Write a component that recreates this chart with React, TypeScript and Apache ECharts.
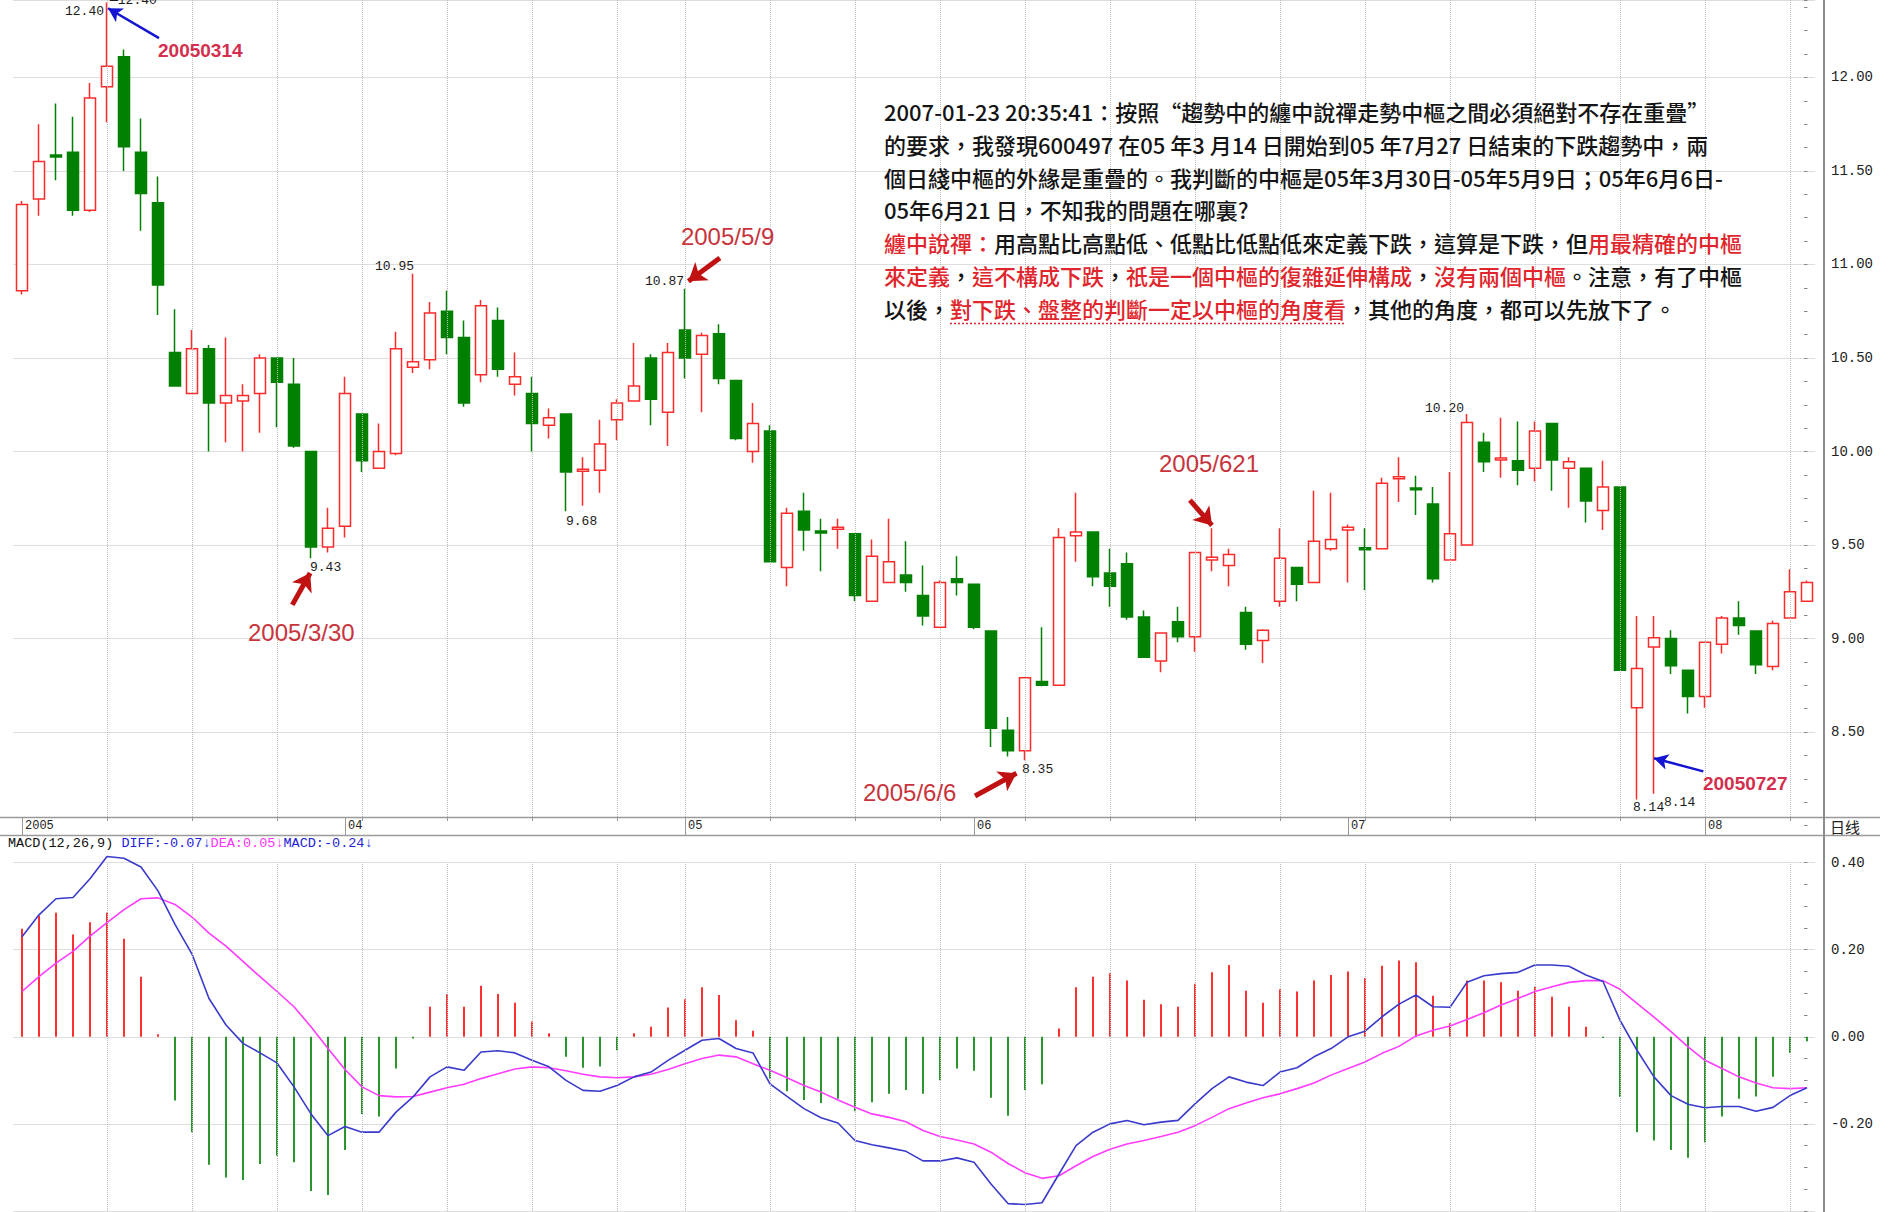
import React, { useEffect, useRef } from "react";
import * as echarts from "echarts";

// ---------- data ----------
const dates = [
  "2005-03-07","2005-03-08","2005-03-09","2005-03-10","2005-03-11",
  "2005-03-14","2005-03-15","2005-03-16","2005-03-17","2005-03-18",
  "2005-03-21","2005-03-22","2005-03-23","2005-03-24","2005-03-25",
  "2005-03-28","2005-03-29","2005-03-30","2005-03-31",
  "2005-04-01",
  "2005-04-04","2005-04-05","2005-04-06","2005-04-07","2005-04-08",
  "2005-04-11","2005-04-12","2005-04-13","2005-04-14","2005-04-15",
  "2005-04-18","2005-04-19","2005-04-20","2005-04-21","2005-04-22",
  "2005-04-25","2005-04-26","2005-04-27","2005-04-28",
  "2005-05-09","2005-05-10","2005-05-11","2005-05-12","2005-05-13",
  "2005-05-16","2005-05-17","2005-05-18","2005-05-19","2005-05-20",
  "2005-05-23","2005-05-24","2005-05-25","2005-05-26","2005-05-27",
  "2005-05-30","2005-05-31",
  "2005-06-01","2005-06-02","2005-06-03",
  "2005-06-06","2005-06-07","2005-06-08","2005-06-09","2005-06-10",
  "2005-06-13","2005-06-14","2005-06-15","2005-06-16","2005-06-17",
  "2005-06-20","2005-06-21","2005-06-22","2005-06-23","2005-06-24",
  "2005-06-27","2005-06-28","2005-06-29","2005-06-30",
  "2005-07-01",
  "2005-07-04","2005-07-05","2005-07-06","2005-07-07","2005-07-08",
  "2005-07-11","2005-07-12","2005-07-13","2005-07-14","2005-07-15",
  "2005-07-18","2005-07-19","2005-07-20","2005-07-21","2005-07-22",
  "2005-07-25","2005-07-26","2005-07-27","2005-07-28","2005-07-29",
  "2005-08-01","2005-08-02","2005-08-03","2005-08-04","2005-08-05",
  "2005-08-08","2005-08-09",
];

const opens = [10.86,11.35,11.585,11.60,11.29, 11.95,12.11,11.60,11.33,10.53, 10.31,10.55,10.26,10.27,10.31, 10.50,10.36,10.00,9.49,9.60, 10.20,9.91,9.99,10.45,10.49, 10.75,10.61,10.41,10.70,10.36, 10.31,10.14,10.20,9.895,9.90, 10.17,10.27,10.50,10.21,10.65, 10.52,10.63,10.38,10.00,10.11, 9.38,9.68,9.575,9.585,9.56, 9.20,9.30,9.34,9.23,9.06, 9.32,9.29,9.04,8.51,8.40, 8.77,8.75,9.55,9.57,9.35, 9.40,9.115,8.88,9.09,9.01, 9.42,9.39,9.14,8.99,9.20, 9.38,9.30,9.48,9.58,9.485, 9.48,9.855,9.805,9.72,9.42, 9.50,10.05,9.955,9.95,9.91, 10.15,9.91,9.91,9.685,9.81, 8.63,8.955,9.00,8.83,8.69, 8.97,9.11,9.04,8.85,9.11, 9.20];
const closes = [11.32,11.55,11.575,11.29,11.89, 12.06,11.63,11.38,10.89,10.35, 10.55,10.26,10.30,10.30,10.50, 10.37,10.03,9.49,9.59,10.31, 9.95,10.00,10.55,10.48,10.74, 10.61,10.26,10.78,10.44,10.40, 10.15,10.18,9.89,9.905,10.04, 10.26,10.35,10.28,10.53,10.50, 10.62,10.39,10.07,10.15,9.41, 9.67,9.58,9.565,9.595,9.23, 9.44,9.41,9.30,9.12,9.30, 9.30,9.06,8.52,8.40,8.79, 8.75,9.54,9.57,9.33,9.28, 9.115,8.90,9.03,9.01,9.46, 9.435,9.45,8.97,9.045,9.43, 9.29,9.52,9.53,9.595,9.475, 9.83,9.865,9.795,9.32,9.56, 10.155,9.945,9.965,9.90,10.11, 9.955,9.945,9.735,9.81,8.83, 8.84,9.005,8.855,8.69,8.98, 9.11,9.07,8.86,9.08,9.25, 9.30];
const lows = [10.84,11.26,11.45,11.26,11.28, 11.76,11.50,11.18,10.73,10.35, 10.31,10.00,10.05,10.00,10.10, 10.13,10.02,9.43,9.46,9.54, 9.89,9.91,9.98,10.42,10.44, 10.52,10.24,10.37,10.40,10.30, 10.00,10.07,9.68,9.71,9.78, 10.06,10.27,10.14,10.03,10.39, 10.21,10.36,10.06,9.94,9.41, 9.28,9.47,9.36,9.48,9.20, 9.20,9.30,9.25,9.07,9.06, 9.23,9.05,8.42,8.37,8.35, 8.745,8.75,9.41,9.28,9.17, 9.10,8.90,8.82,8.98,8.93, 9.36,9.28,8.94,8.87,9.17, 9.20,9.30,9.47,9.30,9.26, 9.48,9.73,9.66,9.30,9.42, 9.50,9.89,9.86,9.82,9.84, 9.79,9.70,9.62,9.58,8.83, 8.14,8.17,8.81,8.60,8.63, 8.92,9.02,8.81,8.83,9.11, 9.20];
const highs = [11.34,11.75,11.86,11.79,11.97, 12.40,12.15,11.78,11.47,10.76, 10.65,10.57,10.61,10.36,10.52, 10.50,10.50,10.00,9.70,10.40, 10.20,10.15,10.64,10.95,10.80, 10.86,10.70,10.81,10.77,10.53, 10.40,10.23,10.20,9.97,10.17, 10.28,10.58,10.52,10.58,10.87, 10.635,10.68,10.38,10.26,10.14, 9.70,9.78,9.64,9.64,9.56, 9.53,9.64,9.52,9.39,9.31, 9.44,9.295,9.04,8.58,8.79, 9.06,9.59,9.78,9.57,9.48, 9.46,9.15,9.03,9.17,9.46, 9.59,9.48,9.17,9.05,9.59, 9.38,9.79,9.78,9.61,9.59, 9.86,9.97,9.87,9.81,9.89, 10.20,10.10,10.18,10.16,10.16, 10.15,9.97,9.91,9.95,9.81, 9.12,9.12,9.045,8.83,8.98, 9.12,9.20,9.04,9.095,9.37, 9.31];

const diffValues = [0.23,0.28,0.317,0.32,0.363, 0.414,0.41,0.39,0.335,0.258, 0.19,0.088,0.027,-0.015,-0.037, -0.06,-0.115,-0.177,-0.227,-0.206, -0.219,-0.219,-0.173,-0.138,-0.092, -0.069,-0.077,-0.035,-0.032,-0.037, -0.054,-0.069,-0.10,-0.123,-0.125, -0.112,-0.092,-0.081,-0.054,-0.031, -0.008,-0.004,-0.027,-0.037,-0.108, -0.137,-0.165,-0.186,-0.198,-0.238, -0.248,-0.255,-0.263,-0.285,-0.285, -0.278,-0.288,-0.338,-0.383,-0.385, -0.381,-0.315,-0.25,-0.219,-0.20, -0.192,-0.202,-0.196,-0.192,-0.154, -0.119,-0.092,-0.104,-0.112,-0.081, -0.071,-0.046,-0.027,0.0,0.013, 0.046,0.075,0.096,0.069,0.068, 0.125,0.14,0.145,0.148,0.165, 0.165,0.162,0.142,0.127,0.038, -0.031,-0.092,-0.135,-0.155,-0.163, -0.16,-0.16,-0.171,-0.162,-0.135, -0.117];
const deaValues = [0.104,0.138,0.169,0.196,0.231, 0.262,0.292,0.317,0.319,0.304, 0.275,0.238,0.208,0.173,0.138, 0.104,0.069,0.023,-0.027,-0.075, -0.115,-0.135,-0.138,-0.137,-0.127, -0.117,-0.109,-0.096,-0.085,-0.074, -0.069,-0.071,-0.078,-0.086,-0.092, -0.094,-0.092,-0.086,-0.075,-0.062, -0.05,-0.042,-0.046,-0.062,-0.077, -0.094,-0.112,-0.127,-0.145,-0.162, -0.177,-0.185,-0.195,-0.215,-0.229, -0.237,-0.246,-0.265,-0.291,-0.312, -0.325,-0.319,-0.296,-0.275,-0.258, -0.246,-0.238,-0.229,-0.219,-0.204, -0.185,-0.165,-0.152,-0.14,-0.131, -0.119,-0.106,-0.088,-0.073,-0.058, -0.038,-0.022,0.002,0.015,0.025, 0.04,0.055,0.073,0.088,0.104, 0.115,0.125,0.129,0.129,0.109, 0.077,0.045,0.012,-0.023,-0.054, -0.073,-0.092,-0.106,-0.117,-0.119, -0.117];
const macdValues = [0.248,0.278,0.285,0.235,0.263, 0.285,0.225,0.138,0.006,-0.146, -0.219,-0.294,-0.323,-0.329,-0.292, -0.273,-0.288,-0.354,-0.363,-0.26, -0.177,-0.183,-0.073,-0.004,0.069, 0.098,0.069,0.117,0.098,0.078, 0.035,0.008,-0.046,-0.071,-0.068, -0.031,0.008,0.023,0.067,0.086, 0.114,0.096,0.038,0.014,-0.096, -0.125,-0.145,-0.152,-0.142,-0.171, -0.15,-0.131,-0.122,-0.131,-0.10, -0.073,-0.078,-0.14,-0.181,-0.122, -0.109,0.019,0.114,0.138,0.146, 0.129,0.085,0.075,0.069,0.122, 0.148,0.165,0.106,0.078,0.109, 0.104,0.129,0.142,0.15,0.135, 0.163,0.175,0.171,0.094,0.031, 0.129,0.129,0.125,0.106,0.115, 0.092,0.069,0.023,-0.003,-0.138, -0.219,-0.238,-0.26,-0.278,-0.242, -0.183,-0.142,-0.137,-0.092,-0.037, -0.01];

// axis ranges and ticks
const priceMin = 8.046;
const priceMax = 12.414;
const priceTickMin = 8.0;
const priceLabelStep = 0.5;
const macdMin = -0.4;
const macdMax = 0.4;
const macdLabelStep = 0.2;

// price labels: index, price, text
const priceLabelIdx = [5, 5, 23, 39, 17, 32, 59, 85, 95, 95];
const priceLabelVal = [12.40, 12.40, 10.95, 10.87, 9.43, 9.68, 8.35, 10.20, 8.14, 8.14];
const priceLabelText = ["12.40", "—12.40", "10.95", "10.87", "9.43", "9.68", "8.35", "10.20", "8.14", "8.14"];

// annotation dates
const noteDateText = ["20050314", "2005/3/30", "2005/5/9", "2005/6/6", "2005/621", "20050727"];

const noteLines: [string, string][][] = [
  [["k", "2007-01-23 20:35:41：按照“趨勢中的纏中說禪走勢中樞之間必須絕對不存在重疊”"]],
  [["k", "的要求，我發現600497 在05 年3 月14 日開始到05 年7月27 日結束的下跌趨勢中，兩"]],
  [["k", "個日綫中樞的外緣是重疊的。我判斷的中樞是05年3月30日-05年5月9日；05年6月6日-"]],
  [["k", "05年6月21 日，不知我的問題在哪裏?"]],
  [["r", "纏中說禪："], ["k", "用高點比高點低、低點比低點低來定義下跌，這算是下跌，但"], ["r", "用最精確的中樞"]],
  [["r", "來定義"], ["k", "，"], ["r", "這不構成下跌"], ["k", "，"], ["r", "祇是一個中樞的復雜延伸構成"], ["k", "，"], ["r", "沒有兩個中樞"], ["k", "。注意，有了中樞"]],
  [["k", "以後，"], ["r", "對下跌、盤整的判斷一定以中樞的角度看"], ["k", "，其他的角度，都可以先放下了。"]],
];

// ---------- styling ----------
const FONT_MONO = '"Liberation Mono", "DejaVu Sans Mono", monospace';
const FONT_CJK = '"Noto Sans CJK TC", "Noto Sans CJK SC", sans-serif';
const FONT_SANS = '"Liberation Sans", Arial, sans-serif';
const RED_TEXT = "#e0262c";
const GRID_LEFT = 13.5;
const BAND = 17;

export default function App() {
  const ref = useRef<HTMLDivElement>(null);

  useEffect(() => {
    if (!ref.current) return;
    const chart = echarts.init(ref.current, null, { renderer: "svg" });
    const N = dates.length;
    const gridWidth = BAND * N;
    const axisX = 1824;
    const priceTop = 0;
    const priceHeight = 817;
    const pxPerPrice = priceHeight / (priceMax - priceMin);
    const macdTop = 862.6;
    const macdHeight = 348.4;

    const t = dates.map((d) => new Date(d + "T00:00:00Z"));
    const weekStarts: number[] = [];
    const monthStarts = new Set<number>();
    t.forEach((d, i) => {
      if (i === 0) {
        monthStarts.add(0);
        return;
      }
      const p = t[i - 1];
      if (d.getUTCDay() <= p.getUTCDay() || d.getTime() - p.getTime() >= 7 * 86400000) weekStarts.push(i);
      if (d.getUTCMonth() !== p.getUTCMonth()) monthStarts.add(i);
    });
    const weekSet = new Set(weekStarts);
    const monthLabel = (i: number) =>
      i === 0 ? String(t[0].getUTCFullYear()) : String(t[i].getUTCMonth() + 1).padStart(2, "0");

    const ohlc = dates.map((_, i) => [opens[i], closes[i], lows[i], highs[i]]);
    const weekLines = weekStarts.map((i) => ({ xAxis: i }));
    const dottedGrid = { type: "dotted", color: "#bcbcbc", width: 1 };

    const isStep = (v: number, step: number) => Math.abs(v / step - Math.round(v / step)) < 1e-6;
    const fmt2 = (v: number) => {
      const r = Math.round(v * 100) / 100;
      return (r === 0 ? 0 : r).toFixed(2);
    };

    // price label placement (style)
    const labelAlign = ["right", "left", "right", "right", "left", "left", "left", "right", "left", "left"];
    const labelOffset = [[-3, 9], [3, -2], [1, -7], [-1, -7], [-1, 9], [0, 10], [-3, 9], [-3, -6], [-4, 8], [27, 3]];
    const priceMarkData = priceLabelIdx.map((idx, k) => ({
      coord: [idx, priceLabelVal[k]],
      label: {
        show: true,
        formatter: priceLabelText[k],
        position: "inside",
        align: labelAlign[k],
        verticalAlign: "middle",
        offset: labelOffset[k],
        fontFamily: FONT_MONO,
        fontSize: 13,
        color: "#1a1a1a",
      },
    }));

    // annotation anchors in data space (index, price)
    const noteAnchor = [[8.0, 12.142], [13.29, 9.035], [38.76, 11.147], [49.47, 8.179], [66.88, 9.938], [98.88, 8.227]];
    const noteBold = [true, false, false, false, false, true];
    const noteMarkData = noteDateText.map((txt, k) => ({
      coord: noteAnchor[k],
      label: {
        show: true,
        formatter: txt,
        position: "inside",
        align: "left",
        verticalAlign: "middle",
        fontFamily: FONT_SANS,
        fontSize: noteBold[k] ? 19 : 24,
        fontWeight: noteBold[k] ? "bold" : "normal",
        color: noteBold[k] ? "#d2304e" : "#c8343c",
      },
    }));

    const arrow = (from: number[], to: number[], color: string, width: number, size: number[]) => [
      { coord: from, symbol: "none", lineStyle: { color, width, type: "solid" }, itemStyle: { color } },
      { coord: to, symbol: "arrow", symbolSize: size, itemStyle: { color } },
    ];
    const RED_ARROW = "#c01212";
    const BLUE_ARROW = "#1414d2";
    const arrows = [
      arrow([15.9, 9.18], [16.95, 9.35], RED_ARROW, 5, [17, 17]),
      arrow([41.05, 11.035], [39.2, 10.91], RED_ARROW, 5, [17, 17]),
      arrow([56.06, 8.158], [58.5, 8.28], RED_ARROW, 5, [17, 17]),
      arrow([68.7, 9.74], [70.0, 9.605], RED_ARROW, 5, [17, 17]),
      arrow([8.06, 12.21], [5.06, 12.37], BLUE_ARROW, 2.5, [12, 14]),
      arrow([98.9, 8.29], [96.0, 8.36], BLUE_ARROW, 2.5, [12, 14]),
    ];

    // text block
    const TEXT_WEIGHT = 500;
    const ctx = document.createElement("canvas").getContext("2d")!;
    ctx.font = `${TEXT_WEIGHT} 22px ${FONT_CJK}`;
    const lastLine = noteLines[noteLines.length - 1];
    const ulStart = 884 + ctx.measureText(lastLine[0][1]).width;
    const ulEnd = ulStart + ctx.measureText(lastLine[1][1]).width;
    const richStyles = {
      k: { fill: "#141414", fontSize: 22, fontFamily: FONT_CJK, fontWeight: TEXT_WEIGHT },
      r: { fill: RED_TEXT, fontSize: 22, fontFamily: FONT_CJK, fontWeight: TEXT_WEIGHT },
    };
    const textBlock = noteLines.map((segs, li) => ({
      type: "text",
      x: 884,
      y: 111.3 + li * 32.7,
      silent: true,
      z: 20,
      style: {
        text: segs.map(([c, s]) => `{${c}|${s}}`).join(""),
        rich: richStyles,
        font: `${TEXT_WEIGHT} 22px ${FONT_CJK}`,
        verticalAlign: "middle",
        align: "left",
      },
    }));

    // tick grids (right edge on the axis line); the price tick grid starts at the top and
    // reaches down to priceTickMin so that ticks fall on round values
    const tickGridTop = priceTop;
    const tickGridHeight = (priceMax - priceTickMin) * pxPerPrice;

    const hiddenX = (gridIndex: number) => ({ type: "value", gridIndex, show: false, min: 0, max: 1 });
    const tickLabel = { margin: 7, fontFamily: FONT_MONO, fontSize: 14, color: "#222" };

    const option = {
      animation: false,
      textStyle: { fontFamily: FONT_SANS },
      grid: [
        { left: GRID_LEFT, width: gridWidth, top: priceTop, height: priceHeight },
        { left: GRID_LEFT, width: gridWidth, top: macdTop, height: macdHeight },
        { left: GRID_LEFT, width: gridWidth, top: 817, height: 18 },
        { left: axisX - 20, width: 20, top: tickGridTop, height: tickGridHeight },
        { left: axisX - 20, width: 20, top: macdTop, height: macdHeight },
      ],
      xAxis: [
        {
          type: "category", gridIndex: 0, data: dates, boundaryGap: true,
          axisLine: { show: false },
          axisTick: { show: true, alignWithLabel: true, length: 4, interval: (i: number) => weekSet.has(i), lineStyle: { color: "#999", width: 1 } },
          axisLabel: { show: false },
          splitLine: { show: false },
        },
        {
          type: "category", gridIndex: 1, data: dates, boundaryGap: true,
          axisLine: { show: false }, axisTick: { show: false }, axisLabel: { show: false }, splitLine: { show: false },
        },
        {
          type: "category", gridIndex: 2, data: dates, boundaryGap: true, position: "bottom",
          axisLine: { show: false },
          axisTick: { show: true, inside: true, length: 18, alignWithLabel: true, interval: (i: number) => monthStarts.has(i), lineStyle: { color: "#999", width: 1 } },
          axisLabel: {
            show: true, inside: true, interval: (i: number) => monthStarts.has(i),
            formatter: (_v: string, i: number) => monthLabel(i),
            align: "left", margin: 3, padding: [0, 0, 0, 3],
            fontFamily: FONT_MONO, fontSize: 12, color: "#222",
          },
          splitLine: { show: false },
        },
        { type: "value", gridIndex: 0, min: -0.5, max: N - 0.5, show: false },
        hiddenX(3),
        hiddenX(4),
      ],
      yAxis: [
        {
          type: "value", gridIndex: 0, position: "right",
          min: priceMin, max: priceMax, splitNumber: 9,
          axisLine: { show: false }, axisTick: { show: false }, axisLabel: { show: false },
          splitLine: { show: true, lineStyle: dottedGrid },
        },
        {
          type: "value", gridIndex: 1, position: "right",
          min: macdMin, max: macdMax, interval: macdLabelStep,
          axisLine: { show: false }, axisTick: { show: false }, axisLabel: { show: false },
          splitLine: { show: true, lineStyle: dottedGrid },
        },
        { type: "value", gridIndex: 2, show: false },
        {
          type: "value", gridIndex: 3, position: "right",
          min: priceTickMin, max: priceMax, interval: priceLabelStep / 4,
          axisLine: { show: false },
          axisTick: { show: true, length: 3.5, lineStyle: { color: "#888" } },
          axisLabel: {
            ...tickLabel,
            formatter: (v: number) => (isStep(v, priceLabelStep) && v > priceMin && v < priceMax ? fmt2(v) : ""),
          },
          splitLine: { show: false },
        },
        {
          type: "value", gridIndex: 4, position: "right",
          min: macdMin, max: macdMax, interval: macdLabelStep / 4,
          axisLine: { show: false },
          axisTick: { show: true, length: 3.5, lineStyle: { color: "#888" } },
          axisLabel: {
            ...tickLabel,
            formatter: (v: number) => (isStep(v, macdLabelStep) && v > macdMin + 1e-6 ? fmt2(v) : ""),
          },
          splitLine: { show: false },
        },
      ],
      series: [
        {
          type: "candlestick", xAxisIndex: 0, yAxisIndex: 0, data: ohlc, barWidth: 11,
          itemStyle: { color: "#ffffff", color0: "#008000", borderColor: "#ff2b2b", borderColor0: "#008000", borderWidth: 1.5 },
          markLine: { silent: true, symbol: ["none", "none"], label: { show: false }, lineStyle: dottedGrid, data: weekLines },
        },
        {
          type: "scatter", xAxisIndex: 3, yAxisIndex: 0, data: [], silent: true, z: 6,
          markLine: { silent: true, symbol: ["none", "arrow"], label: { show: false }, data: arrows, z: 6 },
          markPoint: {
            silent: true, symbol: "circle", symbolSize: 1, itemStyle: { color: "rgba(0,0,0,0)" },
            data: [...priceMarkData, ...noteMarkData],
          },
        },
        {
          type: "bar", xAxisIndex: 1, yAxisIndex: 1, data: macdValues, barWidth: 2,
          itemStyle: { color: (p: any) => (p.value >= 0 ? "#ff3030" : "#2b962b") },
          markLine: { silent: true, symbol: ["none", "none"], label: { show: false }, lineStyle: dottedGrid, data: weekLines },
        },
        {
          type: "line", xAxisIndex: 1, yAxisIndex: 1, data: diffValues, symbol: "none", showSymbol: false, clip: false,
          lineStyle: { color: "#3a3acc", width: 1.6 }, z: 4,
        },
        {
          type: "line", xAxisIndex: 1, yAxisIndex: 1, data: deaValues, symbol: "none", showSymbol: false, clip: false,
          lineStyle: { color: "#ff3cff", width: 1.6 }, z: 3,
        },
      ],
      graphic: [
        { type: "line", silent: true, z: 10, shape: { x1: 0, y1: 817.5, x2: 1880, y2: 817.5 }, style: { stroke: "#9a9a9a", lineWidth: 1.5 } },
        { type: "line", silent: true, z: 10, shape: { x1: 0, y1: 835.5, x2: 1880, y2: 835.5 }, style: { stroke: "#9a9a9a", lineWidth: 1.5 } },
        { type: "line", silent: true, z: 10, shape: { x1: axisX, y1: 0, x2: axisX, y2: 1212 }, style: { stroke: "#8c8c8c", lineWidth: 2 } },
        {
          type: "text", silent: true, z: 10, x: 1830, y: 826,
          style: { text: "日线", font: `15px "Noto Sans CJK SC", sans-serif`, fill: "#222", verticalAlign: "middle", align: "left" },
        },
        {
          type: "text", silent: true, z: 10, x: 8, y: 843,
          style: {
            text: "{k|MACD(12,26,9)} {b|DIFF:-0.07↓}{m|DEA:0.05↓}{b|MACD:-0.24↓}",
            font: `13.5px ${FONT_MONO}`,
            verticalAlign: "middle",
            rich: {
              k: { fill: "#111", fontSize: 13.5, fontFamily: FONT_MONO },
              b: { fill: "#2222dd", fontSize: 13.5, fontFamily: FONT_MONO },
              m: { fill: "#ff33ff", fontSize: 13.5, fontFamily: FONT_MONO },
            },
          },
        },
        ...textBlock,
        {
          type: "line", silent: true, z: 20,
          shape: { x1: ulStart, y1: 323.5, x2: ulEnd, y2: 323.5 },
          style: { stroke: RED_TEXT, lineWidth: 1.5, lineDash: [2, 2] },
        },
      ],
    };

    chart.setOption(option as any);
    return () => chart.dispose();
  }, []);

  return <div ref={ref} style={{ position: "fixed", left: 0, top: 0, width: 1897, height: 1212, background: "#fff" }} />;
}
